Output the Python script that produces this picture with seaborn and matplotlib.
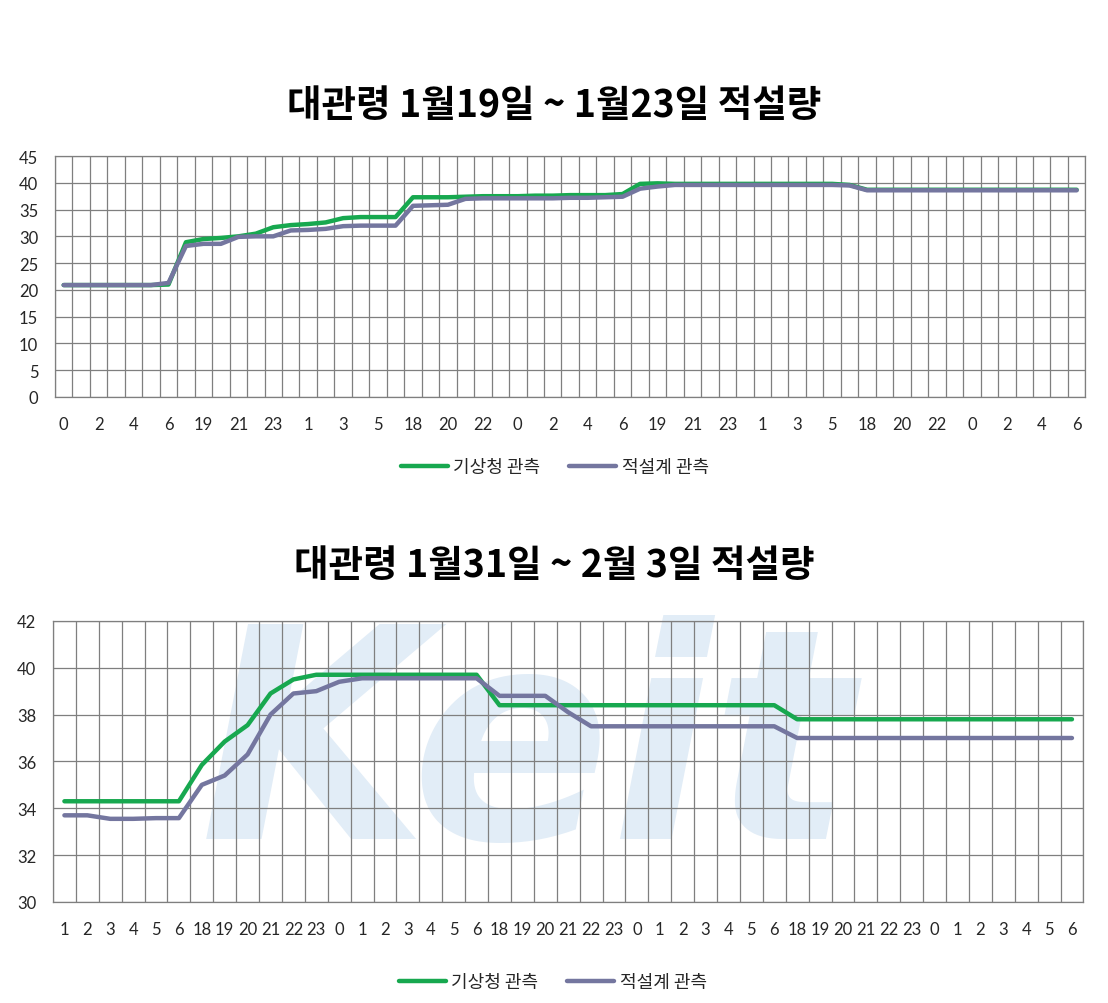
import numpy as np
import pandas as pd
import matplotlib
matplotlib.use("Agg")
import matplotlib.pyplot as plt
import seaborn as sns

# ---------------- data ----------------
top_title = "대관령 1월19일 ~ 1월23일 적설량"
bottom_title = "대관령 1월31일 ~ 2월 3일 적설량"
series_names = ["기상청 관측", "적설계 관측"]

top_hours = [0, 1, 2, 3, 4, 5, 6, 18, 19, 20, 21, 22, 23,
             0, 1, 2, 3, 4, 5, 6, 18, 19, 20, 21, 22, 23,
             0, 1, 2, 3, 4, 5, 6, 18, 19, 20, 21, 22, 23,
             0, 1, 2, 3, 4, 5, 6, 18, 19, 20, 21, 22, 23,
             0, 1, 2, 3, 4, 5, 6]
top_kma = [20.9, 20.9, 20.9, 20.9, 20.9, 20.9, 21.0, 28.9, 29.5, 29.7,
           30.0, 30.5, 31.7, 32.1, 32.3, 32.6, 33.4, 33.6, 33.6, 33.6,
           37.3, 37.3, 37.3, 37.4, 37.5, 37.5, 37.5, 37.6, 37.6, 37.7,
           37.7, 37.7, 37.9, 39.8, 39.9, 39.8, 39.8, 39.8, 39.8, 39.8,
           39.8, 39.8, 39.8, 39.8, 39.8, 39.6, 38.7, 38.7, 38.7, 38.7,
           38.7, 38.7, 38.7, 38.7, 38.7, 38.7, 38.7, 38.7, 38.7]
top_gauge = [20.9, 20.9, 20.9, 20.9, 20.9, 20.9, 21.3, 28.2, 28.6, 28.6,
             29.9, 30.0, 30.0, 31.1, 31.2, 31.4, 31.9, 32.0, 32.0, 32.0,
             35.7, 35.8, 35.9, 37.0, 37.1, 37.1, 37.1, 37.1, 37.1, 37.2,
             37.2, 37.3, 37.4, 38.9, 39.3, 39.6, 39.6, 39.6, 39.6, 39.6,
             39.6, 39.6, 39.6, 39.6, 39.6, 39.5, 38.6, 38.6, 38.6, 38.6,
             38.6, 38.6, 38.6, 38.6, 38.6, 38.6, 38.6, 38.6, 38.6]
top_yticks = [0, 5, 10, 15, 20, 25, 30, 35, 40, 45]

bottom_hours = [1, 2, 3, 4, 5, 6, 18, 19, 20, 21, 22, 23,
                0, 1, 2, 3, 4, 5, 6, 18, 19, 20, 21, 22, 23,
                0, 1, 2, 3, 4, 5, 6, 18, 19, 20, 21, 22, 23,
                0, 1, 2, 3, 4, 5, 6]
bottom_kma = [34.3, 34.3, 34.3, 34.3, 34.3, 34.3, 35.85, 36.85, 37.55, 38.9,
              39.5, 39.7, 39.7, 39.7, 39.7, 39.7, 39.7, 39.7, 39.7, 38.4,
              38.4, 38.4, 38.4, 38.4, 38.4, 38.4, 38.4, 38.4, 38.4, 38.4,
              38.4, 38.4, 37.8, 37.8, 37.8, 37.8, 37.8, 37.8, 37.8, 37.8,
              37.8, 37.8, 37.8, 37.8, 37.8]
bottom_gauge = [33.7, 33.7, 33.55, 33.55, 33.58, 33.58, 35.0, 35.4, 36.3, 38.0,
                38.9, 39.0, 39.4, 39.55, 39.55, 39.55, 39.55, 39.55, 39.55, 38.8,
                38.8, 38.8, 38.1, 37.5, 37.5, 37.5, 37.5, 37.5, 37.5, 37.5,
                37.5, 37.5, 37.0, 37.0, 37.0, 37.0, 37.0, 37.0, 37.0, 37.0,
                37.0, 37.0, 37.0, 37.0, 37.0]
bottom_yticks = [30, 32, 34, 36, 38, 40, 42]

colors = {"기상청 관측": "#17a84f", "적설계 관측": "#74769f"}

# ---------------- style ----------------
sns.set_theme(style="white")
plt.rcParams["font.family"] = ["Noto Sans CJK KR", "DejaVu Sans"]

fig = plt.figure(figsize=(11.08, 10.04), dpi=100)

# faint watermark (kept inside the lower plot area)
fig.text(0.18, 0.104, "Keit", fontsize=212, fontweight="bold", style="italic",
         color="#e2edf7", family="DejaVu Sans", zorder=-5, ha="left", va="bottom")

ax1 = fig.add_axes([0.0496, 0.6036, 0.930, 0.2400])
ax2 = fig.add_axes([0.0478, 0.1006, 0.930, 0.2800])


def draw(ax, hours, kma, gauge, yticks, label_step, title, title_y, legend_y):
    n = len(hours)
    idx = np.arange(n)
    df = pd.DataFrame({
        "idx": np.concatenate([idx, idx]),
        "value": np.concatenate([kma, gauge]),
        "series": [series_names[0]] * n + [series_names[1]] * n,
    })
    ax.set_facecolor("none")
    sns.lineplot(data=df, x="idx", y="value", hue="series", palette=colors,
                 hue_order=series_names, linewidth=3.2, ax=ax,
                 solid_joinstyle="round", solid_capstyle="round", zorder=3)
    ax.set_xlim(-0.5, n - 0.5)
    ax.set_ylim(yticks[0], yticks[-1])
    ax.set_yticks(yticks)
    ax.set_yticklabels([str(v) for v in yticks], fontsize=12, family=["Lato", "DejaVu Sans"])
    ax.set_xticks(idx)
    ax.set_xticklabels([str(h) if i % label_step == 0 else "" for i, h in enumerate(hours)],
                       fontsize=12, family=["Lato", "DejaVu Sans"])
    ax.set_xticks(np.arange(n + 1) - 0.5, minor=True)
    ax.grid(False)
    ax.grid(True, which="minor", axis="x", color="#7f7f7f", linewidth=0.9)
    ax.grid(True, which="major", axis="y", color="#7f7f7f", linewidth=0.9)
    ax.tick_params(axis="both", which="both", length=0)
    ax.tick_params(axis="x", pad=14)
    ax.tick_params(axis="y", pad=12)
    for s in ax.spines.values():
        s.set_color("#7f7f7f")
        s.set_linewidth(0.9)
    ax.set_xlabel("")
    ax.set_ylabel("")
    leg = ax.legend(loc="center", bbox_to_anchor=(0.485, legend_y), ncol=2, frameon=False,
                    fontsize=13, handlelength=2.6, handletextpad=0.3, columnspacing=1.6)
    for line in leg.get_lines():
        line.set_linewidth(3.2)
    fig.text(0.5, title_y, title, ha="center", va="center", fontsize=27,
             fontweight="bold", color="black")


draw(ax1, top_hours, top_kma, top_gauge, top_yticks, 2, top_title, 0.895, -0.29)
draw(ax2, bottom_hours, bottom_kma, bottom_gauge, bottom_yticks, 1, bottom_title, 0.437, -0.285)

fig.savefig("out.png", dpi=100)
